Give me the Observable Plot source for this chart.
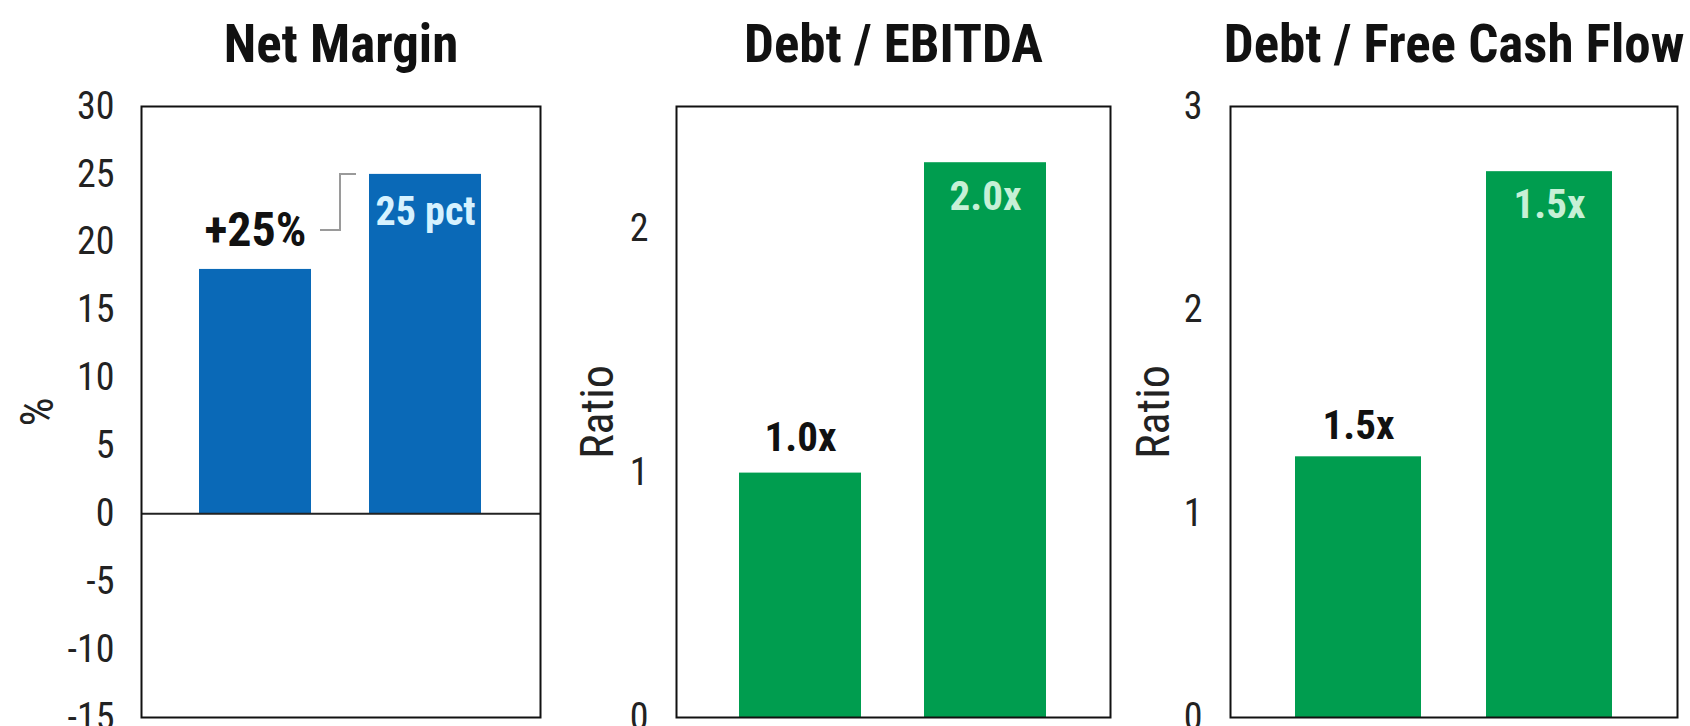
<!DOCTYPE html>
<html>
<head>
<meta charset="utf-8">
<script src="https://cdn.jsdelivr.net/npm/d3@7"></script>
<script src="https://cdn.jsdelivr.net/npm/@observablehq/plot@0.6"></script>
<style>
  html, body { margin: 0; padding: 0; background: #ffffff; }
  #wrap { position: relative; width: 1690px; height: 726px; overflow: hidden; background: #ffffff; }
  #wrap > svg { position: absolute; top: 0; overflow: visible; }
</style>
</head>
<body>
<div id="wrap"></div>
<script>
// ---- data ----
const periods = ["Prior", "Current"];
const netMargin = [18, 25];
const netMarginLabels = ["+25%", "25 pct"];
const debtEbitda = [1.0, 2.27];
const debtEbitdaLabels = ["1.0x", "2.0x"];
const debtFcf = [1.28, 2.68];
const debtFcfLabels = ["1.5x", "1.5x"];
const netMarginTicks = [-15, -10, -5, 0, 5, 10, 15, 20, 25, 30];
const debtEbitdaTicks = [0, 1, 2];
const debtFcfTicks = [0, 1, 2, 3];
const titles = ["Net Margin", "Debt / EBITDA", "Debt / Free Cash Flow"];
const yLabels = ["%", "Ratio", "Ratio"];

const FONT = '"Roboto Condensed", "Liberation Sans Narrow", "Arial Narrow", Roboto, sans-serif';
const BLUE = "#0a69b7";
const GREEN = "#009d4f";

function table(values, labels) {
  return periods.map((p, i) => ({period: p, value: values[i], label: labels[i], i}));
}

function panel({left, width, marginLeft, marginRight, domain, ticks, data, color, title, ylabel,
                ylabelDx, tickPadding, aboveDy, insideDy, insideColor, aboveSize, insideSize, extra = []}) {
  const svg = Plot.plot({
    width, height: 726,
    marginLeft, marginRight, marginTop: 106, marginBottom: 9,
    style: {fontFamily: FONT, fontSize: "38px", color: "#222", background: "transparent", overflow: "visible"},
    x: {domain: periods, padding: 0.34, axis: null},
    y: {domain, axis: null},
    marks: [
      Plot.barY(data, {x: "period", y: "value", fill: color}),
      ...extra,
      Plot.axisY({ticks, tickSize: 0, tickPadding, tickFormat: d => String(d), fontSize: 38, label: null, fill: "#222"}),
      Plot.text([title], {frameAnchor: "top", dy: -61, fontSize: 53, fontWeight: 700, fill: "#111", lineAnchor: "middle"}),
      Plot.text([ylabel], {frameAnchor: "left", dx: ylabelDx, rotate: -90, fontSize: 46, fill: "#222", textAnchor: "middle", lineAnchor: "middle"}),
      Plot.text(data.filter(d => d.i === 0), {x: "period", y: "value", text: "label", dy: aboveDy, fontSize: aboveSize, fontWeight: 700, fill: "#111", lineAnchor: "middle"}),
      Plot.text(data.filter(d => d.i === 1), {x: "period", y: "value", text: "label", dy: insideDy, fontSize: insideSize, fontWeight: 700, fill: insideColor, lineAnchor: "middle"}),
      Plot.frame({stroke: "#111", strokeWidth: 2})
    ]
  });
  svg.style.left = left + "px";
  document.getElementById("wrap").appendChild(svg);
}

// connector from the "+25%" label to the top of the second bar, positioned through the scales
function connector(index, scales) {
  const x = scales.x, y = scales.y;
  const bw = typeof x.bandwidth === "function" ? x.bandwidth() : x.bandwidth;
  const x0 = x(periods[0]) + bw / 2 + 65;
  const xm = (x(periods[0]) + bw + x(periods[1])) / 2;
  const x1 = x(periods[1]) - 13;
  const yLab = y(netMargin[0]) - 39;
  const yTop = y(netMargin[1]);
  const path = document.createElementNS("http://www.w3.org/2000/svg", "path");
  path.setAttribute("d", `M${x0},${yLab}H${xm}V${yTop}H${x1}`);
  path.setAttribute("fill", "none");
  path.setAttribute("stroke", "#9a9a9a");
  path.setAttribute("stroke-width", "2");
  return path;
}

panel({
  left: 0, width: 560, marginLeft: 141, marginRight: 20,
  domain: [-15, 30], ticks: netMarginTicks,
  data: table(netMargin, netMarginLabels), color: BLUE,
  title: titles[0], ylabel: yLabels[0], ylabelDx: -103, tickPadding: 27,
  aboveDy: -39, insideDy: 38, insideColor: "#d6f2ff", aboveSize: 48, insideSize: 40,
  extra: [Plot.ruleY([0], {stroke: "#222", strokeWidth: 2}), connector]
});

panel({
  left: 560, width: 560, marginLeft: 116, marginRight: 10,
  domain: [0, 2.5], ticks: debtEbitdaTicks,
  data: table(debtEbitda, debtEbitdaLabels), color: GREEN,
  title: titles[1], ylabel: yLabels[1], ylabelDx: -78, tickPadding: 28,
  aboveDy: -35, insideDy: 34, insideColor: "#c6f0d6", aboveSize: 41, insideSize: 41
});

panel({
  left: 1120, width: 570, marginLeft: 110, marginRight: 13,
  domain: [0, 3], ticks: debtFcfTicks,
  data: table(debtFcf, debtFcfLabels), color: GREEN,
  title: titles[2], ylabel: yLabels[2], ylabelDx: -76, tickPadding: 28,
  aboveDy: -31, insideDy: 33, insideColor: "#c6f0d6", aboveSize: 41, insideSize: 41
});
</script>
</body>
</html>
